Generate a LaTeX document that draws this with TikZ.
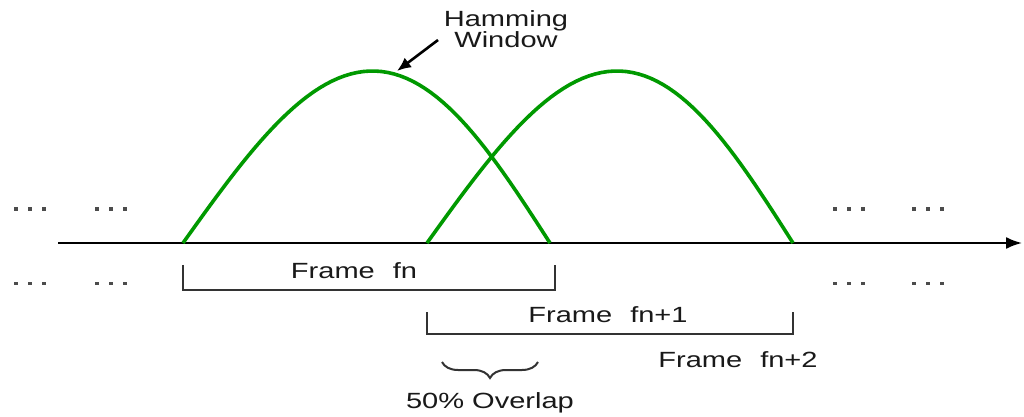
\documentclass[tikz,border=0pt]{standalone}
\usepackage{fontspec}
\setmainfont{Liberation Sans}
\newfontfamily\widefont[FakeStretch=1.32]{Liberation Sans}
\usetikzlibrary{arrows.meta,decorations.pathreplacing}
\begin{document}
\begin{tikzpicture}[x=0.5pt,y=-0.5pt,
  win/.style={draw=green!60!black, line width=1.8pt},
  lbl/.style={font=\widefont\fontsize{11}{11}\selectfont, inner sep=0pt, text=black!90},
  brk/.style={draw=black!80, line width=1pt},
  dotm/.style={fill=black!70}]
\useasboundingbox (0,0) rectangle (1024,417);
% axis
\coordinate (a0) at (58,243);
\coordinate (a1) at (1022,243);
\draw[line width=1pt, -{Latex[length=8pt,width=6pt]}] (a0) -- (a1);
% windows
\draw[win] plot[domain=0:180, samples=60, variable=\t] ({183+\t/180*367+6*sin(\t)},{243-172*sin(\t)});
\draw[win] plot[domain=0:180, samples=60, variable=\t] ({427+\t/180*366+7*sin(\t)},{243-172*sin(\t)});
% hamming label
\node[lbl, align=center] (ham) at (506,29) {Hamming\\[-0.5pt]Window};
\coordinate (hs) at (438,40);
\coordinate (he) at (397,71);
\draw[line width=1.3pt, -{Latex[length=7pt,width=6pt]}] (hs) -- (he);
% dots
\foreach \x in {16,30,44,97,111,125,835,849,863,914,928,942} {
  \fill[dotm] (\x-1.7,207.5) rectangle (\x+1.7,211);
  \fill[dotm] (\x-1.7,281.5) rectangle (\x+1.7,285);
}
% frame fn
\coordinate (f1a) at (183,265);
\coordinate (f1b) at (183,290);
\coordinate (f1c) at (555,290);
\coordinate (f1d) at (555,265);
\draw[brk] (f1a) -- (f1b) -- (f1c) -- (f1d);
\node[lbl] (fn) at (354,271) {Frame\hspace{9pt}fn};
% frame fn+1
\coordinate (f2a) at (427,312);
\coordinate (f2b) at (427,334);
\coordinate (f2c) at (793,334);
\coordinate (f2d) at (793,312);
\draw[brk] (f2a) -- (f2b) -- (f2c) -- (f2d);
\node[lbl] (fn1) at (608,315) {Frame\hspace{9pt}fn+1};
% frame fn+2
\node[lbl] (fn2) at (738,360) {Frame\hspace{9pt}fn+2};
% brace
\coordinate (b0) at (538,362);
\coordinate (b1) at (442,362);
\draw[brk, decorate, decoration={brace, amplitude=8pt}] (b0) -- (b1);
\node[lbl] (ov) at (490,403) {50\% Overlap};
\end{tikzpicture}
\end{document}
